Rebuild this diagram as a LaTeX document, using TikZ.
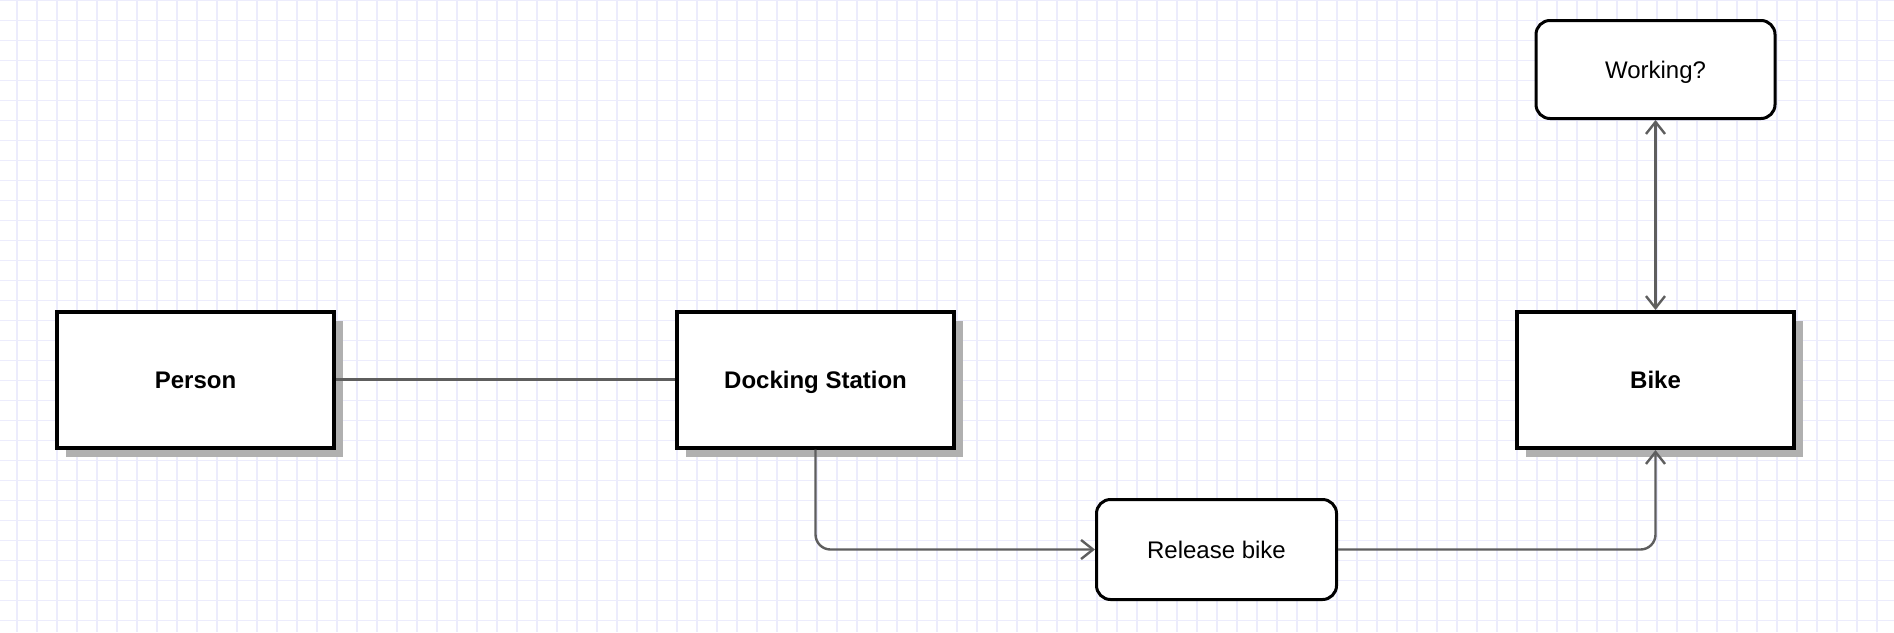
\documentclass[tikz,border=0pt]{standalone}
\usepackage{fontspec}
\setmainfont{Liberation Sans}
\usetikzlibrary{arrows.meta,shadows}
\definecolor{gridc}{HTML}{ECECFC}
\definecolor{connc}{HTML}{5E5E5E}
\definecolor{shadc}{HTML}{B0B0B0}
\begin{document}
\begin{tikzpicture}[x=1pt,y=-1pt,
  every node/.style={font=\fontsize{24}{28}\selectfont, text=black, text height=17.2pt, text depth=0pt},
  entity/.style={draw=black, line width=4pt, fill=white, minimum width=277pt, minimum height=136pt,
    font=\fontsize{24}{28}\selectfont\bfseries,
    general shadow={fill=shadc, shadow xshift=9pt, shadow yshift=-9pt}},
  action/.style={draw=black, line width=3pt, fill=white, rounded corners=14pt},
  conn/.style={draw=connc, line width=2.4pt, >={Straight Barb[length=12pt,width=19pt]}},
  ]
\useasboundingbox (0,0) rectangle (1894,632);
\fill[white] (0,0) rectangle (1894,632);
\foreach \gx in {16.7,36.7,...,1894} {\draw[gridc, line width=1.8pt] (\gx,0) -- (\gx,632);}
\foreach \gy in {0.5,20.5,...,632} {\draw[gridc, line width=1.8pt] (0,\gy) -- (1894,\gy);}

\node[entity] (person) at (195.5,379.5) {Person};
\node[entity] (dock) at (815.5,379.5) {Docking Station};
\node[entity] (bike) at (1655.5,380) {Bike};
\node[action, minimum width=240pt, minimum height=100pt] (rel) at (1216.5,549.5) {Release bike};
\node[action, minimum width=239pt, minimum height=98pt] (work) at (1655.5,69.5) {Working?};

\draw[conn] (person) -- (dock);
\draw[conn, ->, rounded corners=15pt] (dock.south) |- (rel.west);
\draw[conn, ->, rounded corners=15pt] (rel.east) -| (bike.south);
\draw[conn, <->] (work.south) -- (bike.north);
\end{tikzpicture}
\end{document}
